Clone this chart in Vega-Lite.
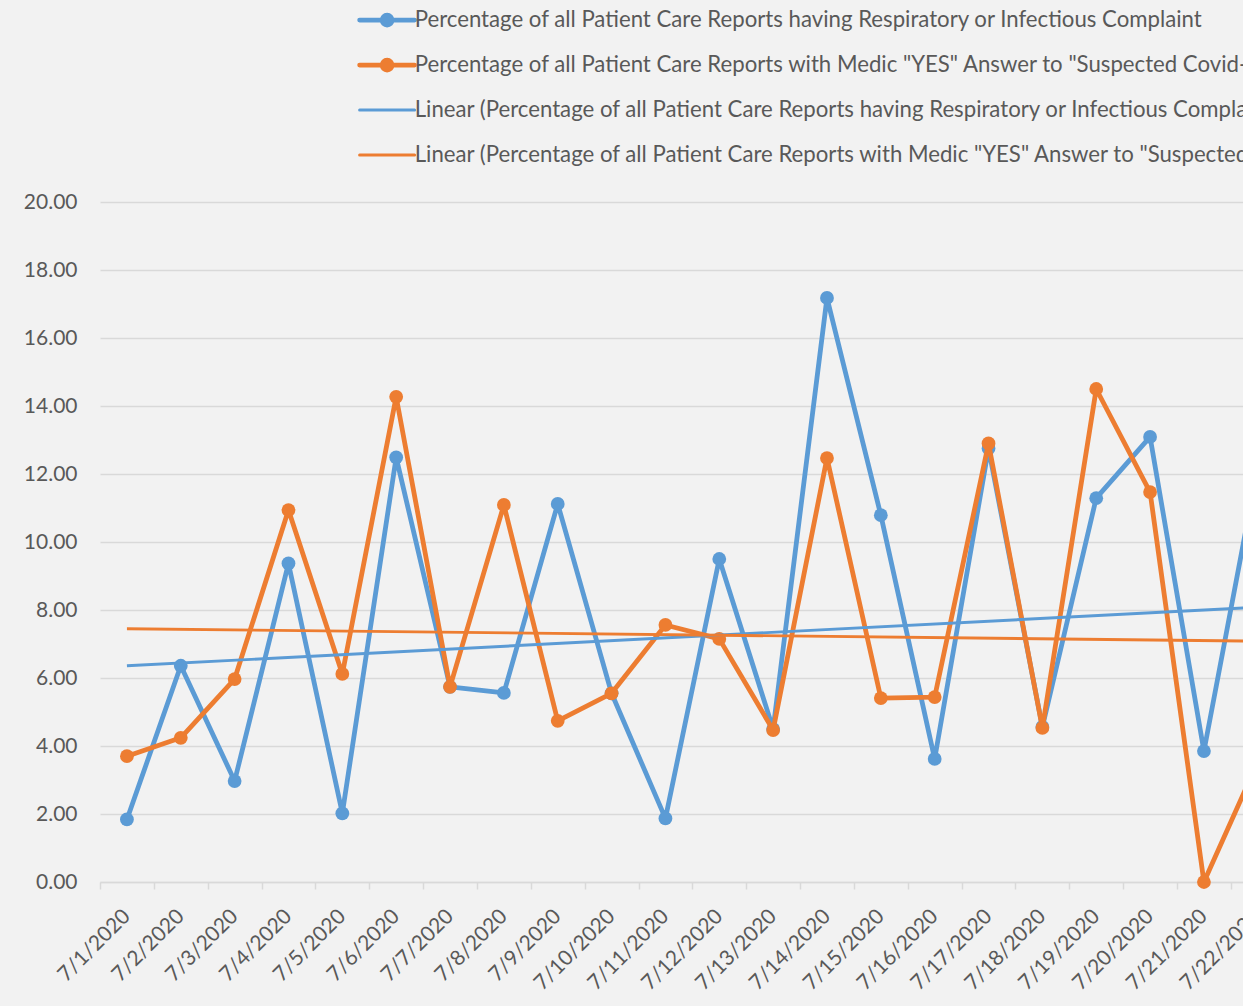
{
  "$schema": "https://vega.github.io/schema/vega-lite/v6.json",
  "autosize": "none",
  "width": 1143,
  "height": 680,
  "padding": {"left": 100, "top": 202, "right": 0, "bottom": 124},
  "background": "#f2f2f2",
  "config": {"view": {"stroke": null}, "font": "Lato"},
  "data": {"values": [
    {"date": "7/1/2020", "series": "Percentage of all Patient Care Reports having Respiratory or Infectious Complaint", "value": 1.84},
    {"date": "7/2/2020", "series": "Percentage of all Patient Care Reports having Respiratory or Infectious Complaint", "value": 6.36},
    {"date": "7/3/2020", "series": "Percentage of all Patient Care Reports having Respiratory or Infectious Complaint", "value": 2.97},
    {"date": "7/4/2020", "series": "Percentage of all Patient Care Reports having Respiratory or Infectious Complaint", "value": 9.37},
    {"date": "7/5/2020", "series": "Percentage of all Patient Care Reports having Respiratory or Infectious Complaint", "value": 2.02},
    {"date": "7/6/2020", "series": "Percentage of all Patient Care Reports having Respiratory or Infectious Complaint", "value": 12.49},
    {"date": "7/7/2020", "series": "Percentage of all Patient Care Reports having Respiratory or Infectious Complaint", "value": 5.74},
    {"date": "7/8/2020", "series": "Percentage of all Patient Care Reports having Respiratory or Infectious Complaint", "value": 5.56},
    {"date": "7/9/2020", "series": "Percentage of all Patient Care Reports having Respiratory or Infectious Complaint", "value": 11.12},
    {"date": "7/10/2020", "series": "Percentage of all Patient Care Reports having Respiratory or Infectious Complaint", "value": 5.55},
    {"date": "7/11/2020", "series": "Percentage of all Patient Care Reports having Respiratory or Infectious Complaint", "value": 1.87},
    {"date": "7/12/2020", "series": "Percentage of all Patient Care Reports having Respiratory or Infectious Complaint", "value": 9.5},
    {"date": "7/13/2020", "series": "Percentage of all Patient Care Reports having Respiratory or Infectious Complaint", "value": 4.5},
    {"date": "7/14/2020", "series": "Percentage of all Patient Care Reports having Respiratory or Infectious Complaint", "value": 17.18},
    {"date": "7/15/2020", "series": "Percentage of all Patient Care Reports having Respiratory or Infectious Complaint", "value": 10.79},
    {"date": "7/16/2020", "series": "Percentage of all Patient Care Reports having Respiratory or Infectious Complaint", "value": 3.62},
    {"date": "7/17/2020", "series": "Percentage of all Patient Care Reports having Respiratory or Infectious Complaint", "value": 12.75},
    {"date": "7/18/2020", "series": "Percentage of all Patient Care Reports having Respiratory or Infectious Complaint", "value": 4.56},
    {"date": "7/19/2020", "series": "Percentage of all Patient Care Reports having Respiratory or Infectious Complaint", "value": 11.29},
    {"date": "7/20/2020", "series": "Percentage of all Patient Care Reports having Respiratory or Infectious Complaint", "value": 13.09},
    {"date": "7/21/2020", "series": "Percentage of all Patient Care Reports having Respiratory or Infectious Complaint", "value": 3.85},
    {"date": "7/22/2020", "series": "Percentage of all Patient Care Reports having Respiratory or Infectious Complaint", "value": 12.2},
    {"date": "7/1/2020", "series": "Percentage of all Patient Care Reports with Medic \"YES\" Answer to \"Suspected Covid-19\"", "value": 3.7},
    {"date": "7/2/2020", "series": "Percentage of all Patient Care Reports with Medic \"YES\" Answer to \"Suspected Covid-19\"", "value": 4.24},
    {"date": "7/3/2020", "series": "Percentage of all Patient Care Reports with Medic \"YES\" Answer to \"Suspected Covid-19\"", "value": 5.97},
    {"date": "7/4/2020", "series": "Percentage of all Patient Care Reports with Medic \"YES\" Answer to \"Suspected Covid-19\"", "value": 10.94},
    {"date": "7/5/2020", "series": "Percentage of all Patient Care Reports with Medic \"YES\" Answer to \"Suspected Covid-19\"", "value": 6.12},
    {"date": "7/6/2020", "series": "Percentage of all Patient Care Reports with Medic \"YES\" Answer to \"Suspected Covid-19\"", "value": 14.27},
    {"date": "7/7/2020", "series": "Percentage of all Patient Care Reports with Medic \"YES\" Answer to \"Suspected Covid-19\"", "value": 5.74},
    {"date": "7/8/2020", "series": "Percentage of all Patient Care Reports with Medic \"YES\" Answer to \"Suspected Covid-19\"", "value": 11.09},
    {"date": "7/9/2020", "series": "Percentage of all Patient Care Reports with Medic \"YES\" Answer to \"Suspected Covid-19\"", "value": 4.74},
    {"date": "7/10/2020", "series": "Percentage of all Patient Care Reports with Medic \"YES\" Answer to \"Suspected Covid-19\"", "value": 5.55},
    {"date": "7/11/2020", "series": "Percentage of all Patient Care Reports with Medic \"YES\" Answer to \"Suspected Covid-19\"", "value": 7.56},
    {"date": "7/12/2020", "series": "Percentage of all Patient Care Reports with Medic \"YES\" Answer to \"Suspected Covid-19\"", "value": 7.15},
    {"date": "7/13/2020", "series": "Percentage of all Patient Care Reports with Medic \"YES\" Answer to \"Suspected Covid-19\"", "value": 4.47},
    {"date": "7/14/2020", "series": "Percentage of all Patient Care Reports with Medic \"YES\" Answer to \"Suspected Covid-19\"", "value": 12.47},
    {"date": "7/15/2020", "series": "Percentage of all Patient Care Reports with Medic \"YES\" Answer to \"Suspected Covid-19\"", "value": 5.41},
    {"date": "7/16/2020", "series": "Percentage of all Patient Care Reports with Medic \"YES\" Answer to \"Suspected Covid-19\"", "value": 5.44},
    {"date": "7/17/2020", "series": "Percentage of all Patient Care Reports with Medic \"YES\" Answer to \"Suspected Covid-19\"", "value": 12.9},
    {"date": "7/18/2020", "series": "Percentage of all Patient Care Reports with Medic \"YES\" Answer to \"Suspected Covid-19\"", "value": 4.53},
    {"date": "7/19/2020", "series": "Percentage of all Patient Care Reports with Medic \"YES\" Answer to \"Suspected Covid-19\"", "value": 14.5},
    {"date": "7/20/2020", "series": "Percentage of all Patient Care Reports with Medic \"YES\" Answer to \"Suspected Covid-19\"", "value": 11.47},
    {"date": "7/21/2020", "series": "Percentage of all Patient Care Reports with Medic \"YES\" Answer to \"Suspected Covid-19\"", "value": 0},
    {"date": "7/22/2020", "series": "Percentage of all Patient Care Reports with Medic \"YES\" Answer to \"Suspected Covid-19\"", "value": 3.53},
    {"date": "7/1/2020", "series": "Linear (Percentage of all Patient Care Reports having Respiratory or Infectious Complaint)", "value": 6.36},
    {"date": "7/22/2020", "series": "Linear (Percentage of all Patient Care Reports having Respiratory or Infectious Complaint)", "value": 8.08},
    {"date": "7/1/2020", "series": "Linear (Percentage of all Patient Care Reports with Medic \"YES\" Answer to \"Suspected Covid-19\")", "value": 7.45},
    {"date": "7/22/2020", "series": "Linear (Percentage of all Patient Care Reports with Medic \"YES\" Answer to \"Suspected Covid-19\")", "value": 7.085}
  ]},
  "encoding": {
    "x": {
      "field": "date", "type": "ordinal",
      "scale": {
        "type": "band", "paddingInner": 0, "paddingOuter": 0, "range": [0, 1184.7],
        "domain": ["7/1/2020","7/2/2020","7/3/2020","7/4/2020","7/5/2020","7/6/2020","7/7/2020","7/8/2020","7/9/2020","7/10/2020","7/11/2020","7/12/2020","7/13/2020","7/14/2020","7/15/2020","7/16/2020","7/17/2020","7/18/2020","7/19/2020","7/20/2020","7/21/2020","7/22/2020"]
      },
      "axis": {
        "title": null, "grid": false, "tickBand": "extent", "labelAngle": -45,
        "domainColor": "#d9d9d9", "domainWidth": 1.5, "tickColor": "#d9d9d9", "tickWidth": 1.5, "tickSize": 7,
        "labelFont": "Lato", "labelFontSize": 21, "labelColor": "#595959", "labelPadding": 16, "labelOffset": -8
      }
    },
    "y": {
      "field": "value", "type": "quantitative",
      "scale": {"domain": [0, 20], "nice": false, "zero": true},
      "axis": {
        "title": null, "values": [0,2,4,6,8,10,12,14,16,18,20], "format": ".2f",
        "grid": true, "gridColor": "#d9d9d9", "gridWidth": 1.3, "domain": false, "ticks": false,
        "labelFont": "Lato", "labelFontSize": 21, "labelColor": "#595959", "labelPadding": 23
      }
    },
    "color": {
      "field": "series", "type": "nominal",
      "scale": {
        "domain": [
          "Percentage of all Patient Care Reports having Respiratory or Infectious Complaint",
          "Percentage of all Patient Care Reports with Medic \"YES\" Answer to \"Suspected Covid-19\"",
          "Linear (Percentage of all Patient Care Reports having Respiratory or Infectious Complaint)",
          "Linear (Percentage of all Patient Care Reports with Medic \"YES\" Answer to \"Suspected Covid-19\")"
        ],
        "range": ["#5B9BD5", "#ED7D31", "#5B9BD5", "#ED7D31"]
      },
      "legend": {
        "title": null, "orient": "none", "legendX": 276, "legendY": -193, "direction": "vertical",
        "labelFont": "Lato", "labelFontSize": 22.2, "labelColor": "#595959", "labelLimit": 3000,
        "symbolSize": 1600, "rowPadding": 15, "gridAlign": "all", "labelOffset": 16.5, "padding": 0,
        "encode": {"symbols": {"update": {
          "shape": {"signal": "datum.index < 2 ? 'M-1.375,0L1.375,0M-0.25,0A0.25,0.25,0,1,0,0.25,0A0.25,0.25,0,1,0,-0.25,0Z' : 'M-1.375,0L1.375,0'"},
          "fill": {"signal": "scale('color', datum.value)"},
          "stroke": {"signal": "scale('color', datum.value)"},
          "strokeWidth": {"signal": "datum.index < 2 ? 4.7 : 3"},
          "strokeCap": {"value": "round"},
          "opacity": {"value": 1}
        }}}
      }
    }
  },
  "layer": [
    {
      "transform": [{"filter": {"field": "series", "equal": "Percentage of all Patient Care Reports having Respiratory or Infectious Complaint"}}],
      "mark": {"type": "line", "strokeWidth": 4.8, "strokeJoin": "round", "strokeCap": "round"}
    },
    {
      "transform": [{"filter": {"field": "series", "equal": "Percentage of all Patient Care Reports having Respiratory or Infectious Complaint"}}],
      "mark": {"type": "point", "filled": true, "size": 190, "opacity": 1}
    },
    {
      "transform": [{"filter": {"field": "series", "equal": "Percentage of all Patient Care Reports with Medic \"YES\" Answer to \"Suspected Covid-19\""}}],
      "mark": {"type": "line", "strokeWidth": 4.8, "strokeJoin": "round", "strokeCap": "round"}
    },
    {
      "transform": [{"filter": {"field": "series", "equal": "Percentage of all Patient Care Reports with Medic \"YES\" Answer to \"Suspected Covid-19\""}}],
      "mark": {"type": "point", "filled": true, "size": 190, "opacity": 1}
    },
    {
      "transform": [{"filter": {"field": "series", "oneOf": [
        "Linear (Percentage of all Patient Care Reports having Respiratory or Infectious Complaint)",
        "Linear (Percentage of all Patient Care Reports with Medic \"YES\" Answer to \"Suspected Covid-19\")"
      ]}}],
      "mark": {"type": "line", "strokeWidth": 2.9}
    }
  ]
}
